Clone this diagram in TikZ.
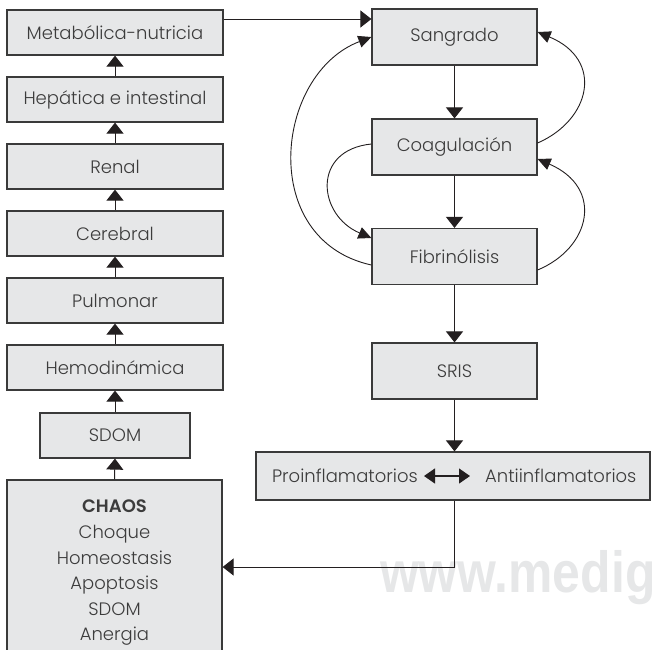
\documentclass[tikz,border=0pt]{standalone}
\usepackage{fontspec}
\setmainfont{Poppins Light}[BoldFont={Poppins SemiBold}]
\newfontfamily\wmfont{Liberation Sans}
\usetikzlibrary{arrows.meta}
\definecolor{boxfill}{HTML}{E6E7E8}
\definecolor{boxline}{HTML}{3A3A3A}
\definecolor{ink}{HTML}{231F20}
\definecolor{txt}{HTML}{3C3C3C}
\tikzset{
  organ/.style={rectangle,draw=boxline,fill=boxfill,line width=1.2pt,inner sep=0pt,
    minimum height=45pt,text=txt,font=\fontsize{18}{22}\selectfont},
  phase/.style={organ,minimum width=165pt,minimum height=56pt},
  up/.style={-{Triangle[width=17pt,length=11pt]},draw=ink,line width=1pt},
  loopback/.style={-{Triangle[width=12pt,length=13pt]},draw=ink,line width=0.9pt},
}
\begin{document}
\begin{tikzpicture}[x=1pt,y=-1pt]
\useasboundingbox (0,0) rectangle (652,649);
% watermark
\node[anchor=base west,inner sep=0pt,text=boxfill,xscale=0.86,
  font=\wmfont\bfseries\fontsize{58}{58}\selectfont] (wm) at (380,592) {www.medig};
% left column
\node[organ,minimum width=216pt] (metab) at (115,32.5) {Metabólica-nutricia};
\node[organ,minimum width=216pt] (hepat) at (115,99.5) {Hepática e intestinal};
\node[organ,minimum width=216pt] (renal) at (115,166.5) {Renal};
\node[organ,minimum width=216pt] (cereb) at (115,233.5) {Cerebral};
\node[organ,minimum width=216pt] (pulm) at (115,300.5) {Pulmonar};
\node[organ,minimum width=216pt] (hemo) at (115,367.5) {Hemodinámica};
\node[organ,minimum width=150pt] (sdom) at (115,435.5) {SDOM};
\node[organ,minimum width=215pt,minimum height=186pt,align=center,
  font=\fontsize{18}{25.6}\selectfont] (chaos) at (114.5,573)
  {\textbf{CHAOS}\\Choque\\Homeostasis\\Apoptosis\\SDOM\\Anergia};
% right column
\node[phase] (sang) at (454.5,37) {Sangrado};
\node[phase] (coag) at (454.5,147) {Coagulación};
\node[phase] (fibr) at (454.5,256.5) {Fibrinólisis};
\node[phase] (sris) at (454.5,371) {SRIS};
\node[organ,minimum width=394pt,minimum height=48pt] (inflam) at (453,476) {};
\node[anchor=east,inner sep=0pt,text=txt,font=\fontsize{18}{22}\selectfont] (proinf) at (418,476) {Proinflamatorios};
\node[anchor=west,inner sep=0pt,text=txt,font=\fontsize{18}{22}\selectfont] (antiinf) at (485,476) {Antiinflamatorios};
% connectors
\foreach \a/\b in {chaos/sdom,sdom/hemo,hemo/pulm,pulm/cereb,cereb/renal,renal/hepat,hepat/metab}
  \draw[up] (\a.north) -- (\b.south);
\foreach \a/\b in {sang/coag,coag/fibr,fibr/sris}
  \draw[up] (\a.south) -- (\b.north);
\draw[up] (sris.south) -- (sris.south |- inflam.north);
\draw[up] ([yshift=13.5pt]metab.east) -- ([yshift=13.5pt]metab.east -| sang.west);
\draw[up] (sris.south |- inflam.south) |- (chaos.east |- 0,567);
\draw[{Triangle[width=15pt,length=11pt]}-{Triangle[width=15pt,length=11pt]},draw=ink,line width=1.2pt]
  ([xshift=6pt]proinf.east) -- ([xshift=-15pt]antiinf.west);
% feedback loops
\draw[loopback] ([yshift=-8.5pt]fibr.west) .. controls +(-114,-25) and +(-97,37) .. (sang.west);
\draw[loopback] ([yshift=3pt]coag.west) .. controls +(-60,6) and +(-54,-23) .. ([yshift=18.5pt]fibr.west);
\draw[loopback] ([yshift=4pt]coag.east) .. controls +(53,-23) and +(67,28) .. ([yshift=5pt]sang.east);
\draw[loopback] ([yshift=-13.5pt]fibr.east) .. controls +(53,-22) and +(67,29) .. ([yshift=-12pt]coag.east);
\end{tikzpicture}
\end{document}
